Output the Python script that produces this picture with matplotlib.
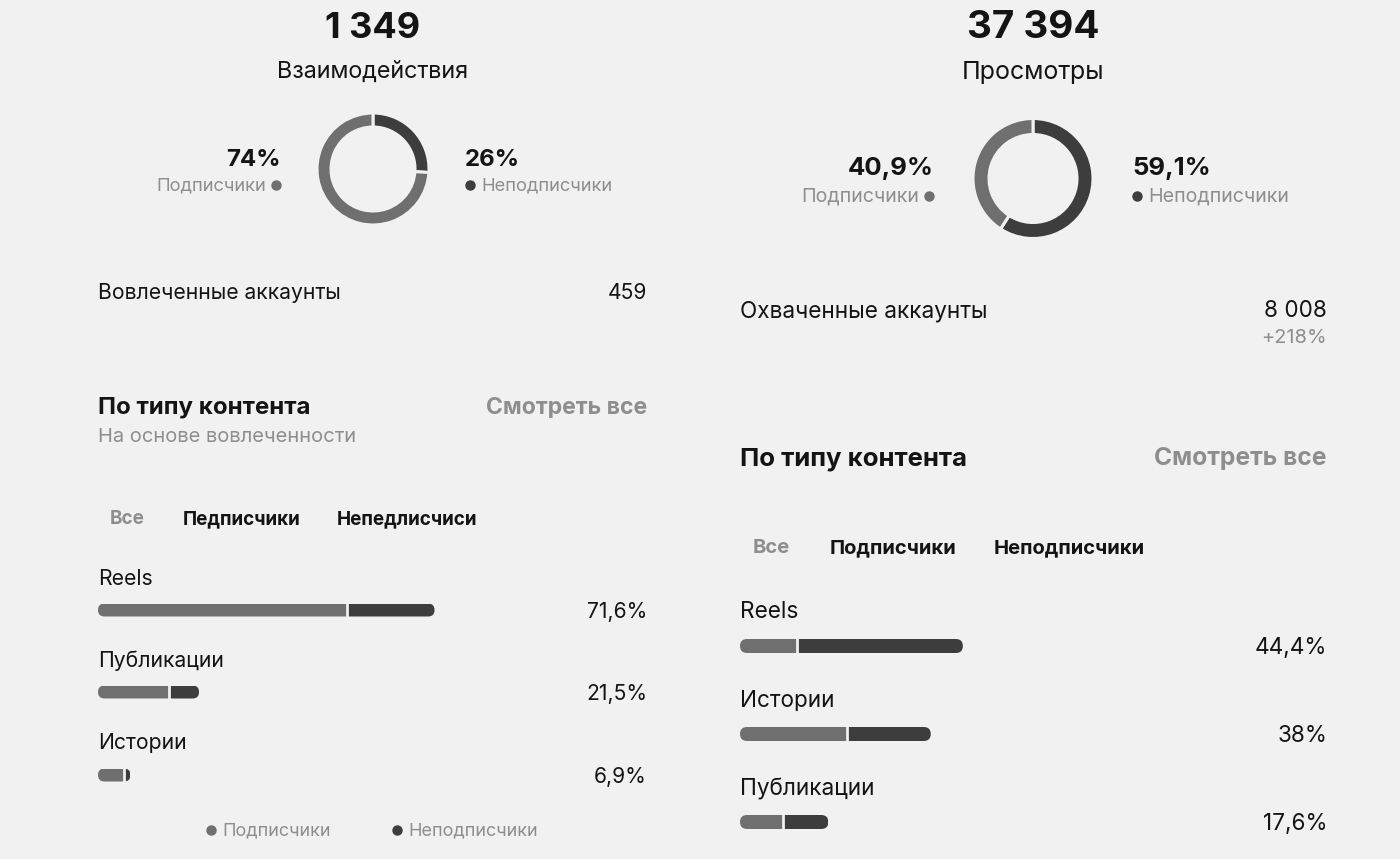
import matplotlib
matplotlib.use("Agg")
import matplotlib.pyplot as plt
from matplotlib.patches import FancyBboxPatch

plt.rcParams['font.family'] = ['Inter', 'DejaVu Sans']

W, H = 1400, 859
BG = '#f1f1f1'
LIGHT = '#6f6f6f'
DARK = '#3d3d3d'
GRAY = '#8e8e8e'
BLACK = '#141414'

# ---- data ----
left_total = "1 349"
left_title = "Взаимодействия"
left_donut = [74, 26]            # followers, non-followers
left_donut_labels = ["74%", "26%"]
left_accounts = ("Вовлеченные аккаунты", "459")
left_tabs = ["Все", "Педписчики", "Непедлисчиси"]
left_cats = ["Reels", "Публикации", "Истории"]
left_pct = [71.6, 21.5, 6.9]
left_follow_share = [74, 70, 79]   # % of each bar from followers

right_total = "37 394"
right_title = "Просмотры"
right_donut = [40.9, 59.1]
right_donut_labels = ["40,9%", "59,1%"]
right_accounts = ("Охваченные аккаунты", "8 008", "+218%")
right_tabs = ["Все", "Подписчики", "Неподписчики"]
right_cats = ["Reels", "Истории", "Публикации"]
right_pct = [44.4, 38, 17.6]
right_follow_share = [25.5, 56, 49]


def fmt(v):
    s = f"{v:g}".replace('.', ',')
    return s + "%"


fig = plt.figure(figsize=(W / 100, H / 100), dpi=100, facecolor=BG)
ax = fig.add_axes([0, 0, 1, 1])
ax.set_xlim(0, W)
ax.set_ylim(H, 0)
ax.axis('off')


def txt(x, y, s, size, ha='left', bold=False, color=BLACK):
    ax.text(x, y + 2, s, ha=ha, va='center', fontsize=size,
            fontweight='bold' if bold else 'normal', color=color)


def donut(cx, cy, r, thick, vals):
    pad = 1.1
    d = fig.add_axes([(cx - r * pad) / W, 1 - (cy + r * pad) / H,
                      2 * r * pad / W, 2 * r * pad / H])
    # non-followers first, clockwise from 12 o'clock
    d.pie(vals[::-1], startangle=90, counterclock=False, colors=[DARK, LIGHT],
          wedgeprops=dict(width=thick / r, edgecolor=BG, linewidth=2.2))
    d.set_xlim(-pad, pad)
    d.set_ylim(-pad, pad)
    d.set_aspect('equal')
    d.axis('off')


def bars(x0, scale, ys, h, pct, share):
    b = fig.add_axes([x0 / W, 0, 100 * scale / W, 1])
    b.set_xlim(0, 100)
    b.set_ylim(H, 0)
    b.axis('off')
    rad = (h / 2) / scale
    for y, p, s in zip(ys, pct, share):
        clip = FancyBboxPatch((0, y - h / 2), p, h,
                              boxstyle=f"round,pad=0,rounding_size={rad}",
                              mutation_aspect=scale, facecolor='none',
                              edgecolor='none')
        b.add_patch(clip)
        split = p * s / 100
        r1 = b.barh(y, split, left=0, height=h, color=LIGHT)
        r2 = b.barh(y, p - split, left=split, height=h, color=DARK)
        for rect in list(r1) + list(r2):
            rect.set_clip_path(clip)
        b.plot([split, split], [y - h / 2 - 1, y + h / 2 + 1], color=BG, lw=2)


def panel(cx, x_l, x_r, fs, total, title, dvals, dlabels, d_cy, d_r, d_th,
          lab_y, sub_y, lab_lx, lab_rx, acc_y, acc, head_y, tabs_y, tabs_x,
          tabs, cats, cat_y, bar_y, pct, share, scale, bar_h):
    txt(cx, 26, total, 26 * fs, ha='center', bold=True)
    txt(cx, 70, title, 16.8 * fs, ha='center')
    donut(cx, d_cy, d_r, d_th, dvals)
    txt(lab_lx, lab_y, dlabels[0], 17.3 * fs, ha='right', bold=True)
    txt(lab_lx - 15, sub_y, "Подписчики", 13.2 * fs, ha='right', color=GRAY)
    ax.plot(lab_lx - 5, sub_y + 1, 'o', ms=6.5, color=LIGHT)
    txt(lab_rx, lab_y, dlabels[1], 17.3 * fs, bold=True)
    ax.plot(lab_rx + 5, sub_y + 1, 'o', ms=6.5, color=DARK)
    txt(lab_rx + 16, sub_y, "Неподписчики", 13.2 * fs, color=GRAY)

    txt(x_l, acc_y, acc[0], 15.2 * fs)
    txt(x_r, acc_y, acc[1], 15.2 * fs, ha='right')
    if len(acc) > 2:
        txt(x_r, acc_y + 27, acc[2], 13.5 * fs, ha='right', color=GRAY)

    txt(x_l, head_y, "По типу контента", 17.3 * fs, bold=True)
    txt(x_r, head_y, "Смотреть все", 16.6 * fs, ha='right', bold=True,
        color=GRAY)

    for t, tx, c in zip(tabs, tabs_x, [GRAY, BLACK, BLACK]):
        txt(tx, tabs_y, t, 13.6 * fs, bold=True, color=c)

    for c, cy_, by, p in zip(cats, cat_y, bar_y, pct):
        txt(x_l, cy_, c, 15.2 * fs)
        txt(x_r, by, fmt(p), 15.2 * fs, ha='right')
    bars(x_l, scale, bar_y, bar_h, pct, share)


panel(373, 98, 647, 1.0, left_total, left_title, left_donut,
      left_donut_labels, 169, 56, 14, 158, 184, 281, 465,
      291, left_accounts, 406, 517, [110, 183, 337], left_tabs,
      left_cats, [577, 659, 741], [610, 692, 775], left_pct,
      left_follow_share, 4.7, 13)
txt(98, 435, "На основе вовлеченности", 14.5, color=GRAY)
ax.plot(211, 830, 'o', ms=6.5, color=LIGHT)
txt(222, 829, "Подписчики", 13, color=GRAY)
ax.plot(397, 830, 'o', ms=6.5, color=DARK)
txt(408, 829, "Неподписчики", 13, color=GRAY)

panel(1033, 740, 1327, 1.07, right_total, right_title, right_donut,
      right_donut_labels, 178.5, 60, 16, 167, 195, 934, 1132,
      309, right_accounts, 457, 546, [753, 830, 994], right_tabs,
      right_cats, [610, 699, 787], [646, 734, 822], right_pct,
      right_follow_share, 5.02, 14)

fig.savefig("out.png", dpi=100, facecolor=BG)
